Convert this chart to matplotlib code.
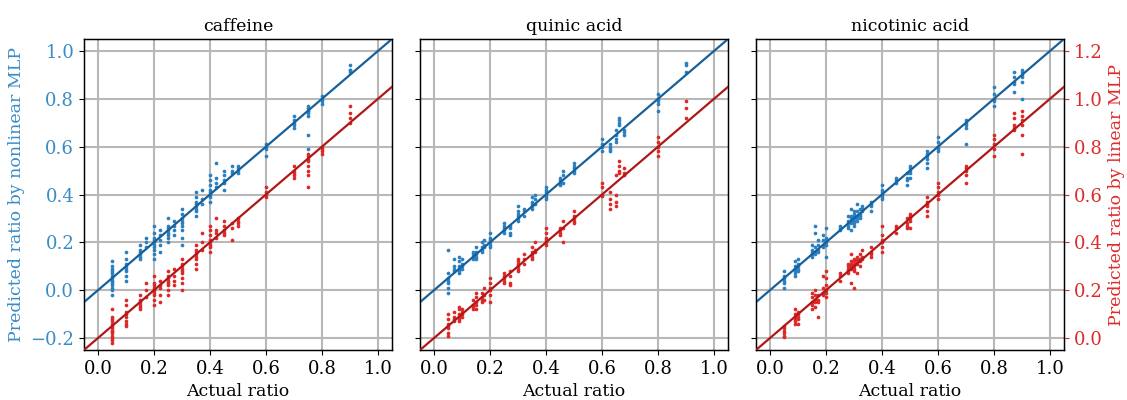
import numpy as np
import matplotlib
import matplotlib.pyplot as plt

matplotlib.use("agg")
plt.rcParams["font.family"] = ["DejaVu Serif"]

titles = ["caffeine", "quinic acid", "nicotinic acid"]

# actual ratio of each group of test samples, predictions listed per group
caf_actual = [0.05, 0.1, 0.15, 0.17, 0.2, 0.22, 0.25, 0.27, 0.3, 0.35, 0.37, 0.4, 0.42, 0.45, 0.48, 0.5,
              0.6, 0.7, 0.75, 0.8, 0.9]
caf_nonlinear = [
    [0.12, 0.10, 0.08, 0.06, 0.05, 0.04, 0.03, 0.02, 0.01, 0.0, -0.02, 0.07, 0.09, 0.04],
    [0.16, 0.13, 0.11, 0.10, 0.09, 0.08, 0.06, 0.04],
    [0.19, 0.17, 0.16, 0.15, 0.14, 0.13],
    [0.22, 0.20, 0.18],
    [0.27, 0.24, 0.22, 0.21, 0.20, 0.19, 0.18, 0.17, 0.15, 0.13],
    [0.25, 0.23, 0.21, 0.19, 0.16],
    [0.30, 0.27, 0.26, 0.25, 0.24, 0.23, 0.22, 0.20],
    [0.29, 0.27, 0.25, 0.23],
    [0.34, 0.32, 0.30, 0.29, 0.28, 0.27, 0.25, 0.22, 0.19],
    [0.41, 0.39, 0.37, 0.36, 0.35, 0.34, 0.33, 0.31],
    [0.42, 0.38, 0.36],
    [0.48, 0.46, 0.44, 0.42, 0.41, 0.40, 0.39, 0.37],
    [0.53, 0.47, 0.45, 0.43],
    [0.50, 0.48, 0.46, 0.45, 0.42],
    [0.52, 0.50, 0.49],
    [0.52, 0.51, 0.50, 0.49],
    [0.61, 0.60, 0.59, 0.56],
    [0.73, 0.71, 0.70, 0.69, 0.68],
    [0.77, 0.76, 0.75, 0.74, 0.73, 0.65, 0.59, 0.75],
    [0.81, 0.80, 0.79, 0.78],
    [0.94, 0.92, 0.91, 0.92],
]
caf_linear = [
    [0.12, 0.09, 0.07, 0.05, 0.04, 0.03, 0.02, 0.01, 0.0, -0.01, -0.02, 0.06, 0.08, 0.03],
    [0.16, 0.14, 0.11, 0.10, 0.09, 0.07, 0.06, 0.05],
    [0.18, 0.16, 0.15, 0.14, 0.13, 0.12],
    [0.23, 0.20, 0.17],
    [0.26, 0.23, 0.22, 0.21, 0.20, 0.20, 0.19, 0.18, 0.16, 0.14],
    [0.24, 0.22, 0.21, 0.18, 0.15],
    [0.28, 0.26, 0.25, 0.24, 0.23, 0.22, 0.20, 0.18],
    [0.29, 0.26, 0.24, 0.22],
    [0.33, 0.31, 0.30, 0.29, 0.28, 0.27, 0.25, 0.23, 0.20],
    [0.39, 0.37, 0.36, 0.35, 0.34, 0.33, 0.31, 0.29],
    [0.44, 0.40, 0.37],
    [0.47, 0.45, 0.43, 0.41, 0.40, 0.39, 0.38, 0.36],
    [0.50, 0.45, 0.44, 0.42],
    [0.49, 0.47, 0.45, 0.44, 0.43],
    [0.48, 0.41, 0.46],
    [0.50, 0.49, 0.48, 0.47],
    [0.63, 0.61, 0.60, 0.59],
    [0.72, 0.70, 0.69, 0.68, 0.67],
    [0.77, 0.76, 0.75, 0.74, 0.72, 0.70, 0.68, 0.63],
    [0.80, 0.79, 0.78, 0.77],
    [0.97, 0.94, 0.92, 0.90],
]

qui_actual = [0.05, 0.07, 0.09, 0.1, 0.14, 0.15, 0.17, 0.18, 0.2, 0.25, 0.27, 0.3, 0.32, 0.35, 0.36, 0.4,
              0.45, 0.46, 0.5, 0.6, 0.63, 0.65, 0.66, 0.68, 0.8, 0.9]
qui_nonlinear = [
    [0.17, 0.07, 0.05, 0.04, 0.03, 0.01, -0.01],
    [0.13, 0.10, 0.09, 0.08],
    [0.14, 0.12, 0.10, 0.09, 0.08, 0.07],
    [0.13, 0.11, 0.10, 0.09],
    [0.16, 0.15, 0.14, 0.13],
    [0.18, 0.16, 0.15, 0.14, 0.13],
    [0.20, 0.18, 0.17, 0.16],
    [0.21, 0.19, 0.18],
    [0.24, 0.22, 0.21, 0.20, 0.19, 0.18],
    [0.28, 0.27, 0.26, 0.25, 0.24],
    [0.27, 0.26, 0.24, 0.23],
    [0.35, 0.33, 0.32, 0.31, 0.30, 0.29],
    [0.34, 0.33, 0.31],
    [0.39, 0.37, 0.36, 0.35, 0.34],
    [0.40, 0.38, 0.36],
    [0.43, 0.42, 0.41, 0.40, 0.39, 0.38],
    [0.47, 0.46, 0.45, 0.44],
    [0.50, 0.48, 0.45],
    [0.53, 0.52, 0.51, 0.50, 0.49],
    [0.63, 0.61, 0.60, 0.58],
    [0.61, 0.60, 0.59, 0.58],
    [0.67, 0.65, 0.63, 0.62],
    [0.72, 0.71, 0.70, 0.69],
    [0.67, 0.66, 0.65],
    [0.82, 0.80, 0.79, 0.78, 0.75],
    [0.95, 0.94, 0.91],
]
qui_linear = [
    [0.10, 0.08, 0.06, 0.05, 0.04, 0.02, 0.01],
    [0.11, 0.09, 0.08, 0.07],
    [0.13, 0.12, 0.10, 0.09, 0.08, 0.07],
    [0.12, 0.11, 0.10, 0.09],
    [0.16, 0.14, 0.13, 0.12],
    [0.19, 0.17, 0.15, 0.14, 0.12],
    [0.19, 0.17, 0.16, 0.15],
    [0.21, 0.18, 0.16],
    [0.25, 0.23, 0.21, 0.20, 0.18, 0.15],
    [0.27, 0.26, 0.25, 0.24, 0.23],
    [0.28, 0.26, 0.23, 0.22],
    [0.33, 0.32, 0.31, 0.30, 0.29, 0.28],
    [0.35, 0.33, 0.31],
    [0.38, 0.36, 0.35, 0.34, 0.33],
    [0.40, 0.37, 0.36],
    [0.46, 0.44, 0.42, 0.41, 0.40, 0.39],
    [0.46, 0.45, 0.44, 0.43],
    [0.49, 0.46, 0.40],
    [0.53, 0.51, 0.50, 0.49, 0.48],
    [0.65, 0.63, 0.60, 0.595],
    [0.61, 0.58, 0.56, 0.54],
    [0.68, 0.60, 0.57, 0.55],
    [0.74, 0.72, 0.70, 0.69],
    [0.71, 0.69, 0.68],
    [0.84, 0.82, 0.80, 0.78, 0.76],
    [0.99, 0.96, 0.92],
]

nic_actual = [0.05, 0.09, 0.1, 0.15, 0.16, 0.17, 0.19, 0.2, 0.25, 0.28, 0.29, 0.3, 0.31, 0.32, 0.33, 0.36,
              0.4, 0.45, 0.49, 0.5, 0.56, 0.6, 0.7, 0.8, 0.87, 0.9]
nic_nonlinear = [
    [0.08, 0.06, 0.05, 0.04, 0.03, 0.01],
    [0.12, 0.10, 0.09, 0.08, 0.07, 0.06],
    [0.13, 0.11, 0.10, 0.09, 0.08],
    [0.19, 0.17, 0.16, 0.15, 0.14],
    [0.27, 0.24, 0.18, 0.16, 0.15],
    [0.21, 0.19, 0.17, 0.16],
    [0.23, 0.21, 0.19, 0.18],
    [0.26, 0.22, 0.21, 0.20, 0.19, 0.14],
    [0.27, 0.26, 0.25],
    [0.31, 0.29, 0.28, 0.27, 0.26],
    [0.34, 0.31, 0.30, 0.29, 0.28, 0.25],
    [0.33, 0.32, 0.31, 0.30, 0.29, 0.28, 0.27],
    [0.36, 0.33, 0.31, 0.30, 0.29],
    [0.34, 0.32, 0.31, 0.30],
    [0.35, 0.34, 0.33],
    [0.37, 0.36, 0.35, 0.33],
    [0.44, 0.42, 0.41, 0.40, 0.39, 0.38],
    [0.47, 0.46, 0.45],
    [0.49, 0.47, 0.46, 0.44],
    [0.52, 0.51, 0.50, 0.49, 0.47],
    [0.58, 0.57, 0.56, 0.55, 0.53, 0.51],
    [0.64, 0.62, 0.60, 0.59, 0.58],
    [0.71, 0.70, 0.69, 0.68, 0.61],
    [0.85, 0.82, 0.80, 0.79, 0.77],
    [0.91, 0.89, 0.87, 0.86, 0.83],
    [0.92, 0.91, 0.90, 0.89, 0.87, 0.80],
]
nic_linear = [
    [0.05, 0.04, 0.03, 0.02, 0.01, 0.005],
    [0.12, 0.10, 0.09, 0.08, 0.07, 0.06],
    [0.11, 0.10, 0.09, 0.08, 0.06],
    [0.19, 0.17, 0.15, 0.14, 0.12],
    [0.20, 0.18, 0.16, 0.15, 0.13],
    [0.18, 0.16, 0.15, 0.09],
    [0.26, 0.21, 0.19, 0.18],
    [0.28, 0.25, 0.22, 0.20, 0.19, 0.17],
    [0.27, 0.26, 0.24],
    [0.31, 0.30, 0.29, 0.28, 0.27],
    [0.35, 0.32, 0.31, 0.30, 0.29, 0.23],
    [0.33, 0.32, 0.31, 0.30, 0.29, 0.28, 0.21],
    [0.34, 0.33, 0.32, 0.31, 0.27],
    [0.35, 0.33, 0.32, 0.30],
    [0.37, 0.34, 0.33],
    [0.38, 0.36, 0.35, 0.34],
    [0.47, 0.43, 0.41, 0.40, 0.38, 0.36],
    [0.47, 0.46, 0.44],
    [0.50, 0.48, 0.47, 0.46],
    [0.52, 0.51, 0.50, 0.49, 0.46],
    [0.59, 0.57, 0.56, 0.55, 0.53, 0.51],
    [0.65, 0.63, 0.61, 0.60, 0.58],
    [0.72, 0.71, 0.70, 0.68, 0.65],
    [0.85, 0.83, 0.81, 0.79, 0.76],
    [0.94, 0.92, 0.89, 0.88, 0.87],
    [0.95, 0.93, 0.91, 0.89, 0.85, 0.77],
]

panels = [
    (caf_actual, caf_nonlinear, caf_linear),
    (qui_actual, qui_nonlinear, qui_linear),
    (nic_actual, nic_nonlinear, nic_linear),
]

blue_pts = "#2a7fc0"
blue_line = "#17609a"
red_pts = "#dd2828"
red_line = "#b01818"
label_blue = "#3a8cc6"
label_red = "#e02a2a"

fig = plt.figure(figsize=(11.27, 4.0), dpi=100)
lefts = [0.0745, 0.3727, 0.6708]
ax0 = None
for i, (actual, nonlin, lin) in enumerate(panels):
    ax = fig.add_axes([lefts[i], 0.125, 0.2733, 0.7775], sharey=ax0)
    if ax0 is None:
        ax0 = ax
    ax2 = ax.twinx()

    xs = np.concatenate([[a] * len(g) for a, g in zip(actual, nonlin)])
    ax.scatter(xs, np.concatenate(nonlin), s=7, color=blue_pts, linewidths=0, zorder=3)
    ax.axline((0, 0), slope=1, color=blue_line, lw=1.6, zorder=4)

    xs2 = np.concatenate([[a] * len(g) for a, g in zip(actual, lin)])
    ax2.scatter(xs2, np.concatenate(lin), s=7, color=red_pts, linewidths=0, zorder=3)
    ax2.axline((0, 0), slope=1, color=red_line, lw=1.6, zorder=4)

    ax.set_xlim(-0.05, 1.05)
    ax.set_ylim(-0.25, 1.05)
    ax2.set_ylim(-0.05, 1.25)
    ax.set_xticks(np.arange(0, 1.01, 0.2))
    ax.set_yticks(np.arange(-0.2, 1.01, 0.2))
    ax2.set_yticks(np.arange(0, 1.21, 0.2))
    ax.grid(True, color="#b8b8b8", lw=1.5)
    ax.set_axisbelow(True)
    ax.set_title(titles[i], fontsize=12.5)
    ax.set_xlabel("Actual ratio", fontsize=12.5)
    ax.tick_params(labelsize=13)
    for sp in ax.spines.values():
        sp.set_linewidth(1.0)

    if i == 0:
        ax.set_ylabel("Predicted ratio by nonlinear MLP", color=label_blue, fontsize=12.5)
        ax.tick_params(axis="y", labelcolor=label_blue)
    else:
        ax.tick_params(axis="y", labelleft=False)

    if i == 2:
        ax2.set_ylabel("Predicted ratio by linear MLP", color=label_red, fontsize=12.5)
        ax2.tick_params(axis="y", labelcolor=label_red, colors=label_red, labelsize=13)
    else:
        ax2.tick_params(axis="y", labelright=False, right=False)

plt.savefig("out.png", dpi=100)
